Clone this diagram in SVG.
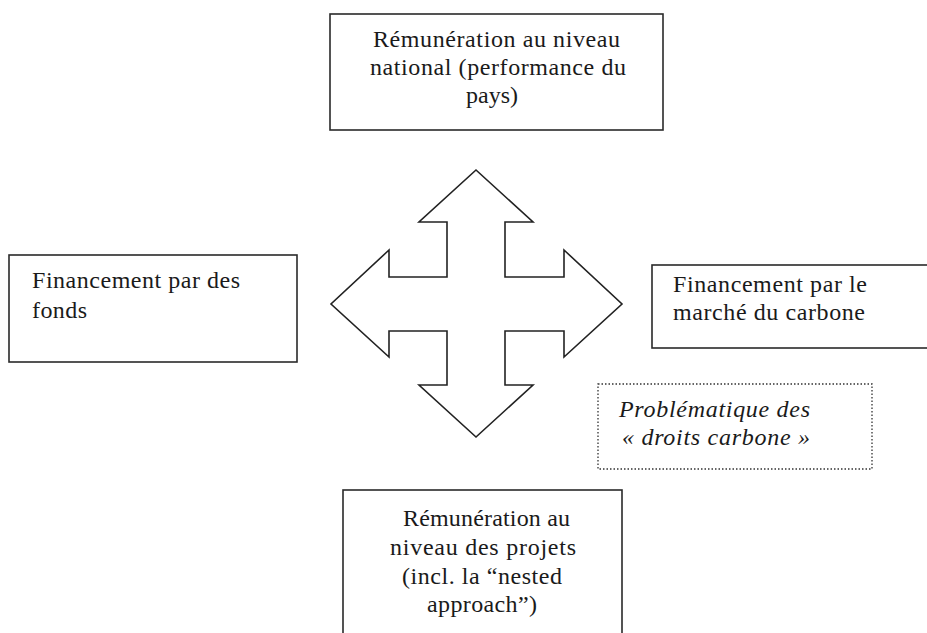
<svg xmlns="http://www.w3.org/2000/svg" width="927" height="633" viewBox="0 0 927 633">
<style>
.box{fill:#fff;stroke:#2a2a2a;stroke-width:1.6}
.dot{fill:#fff;stroke:#333;stroke-width:1.3;stroke-dasharray:1.5 2}
.t{font-family:"Liberation Serif","Times New Roman",serif;font-size:24px;fill:#1a1a1a}
.i{font-style:italic}
.arrow{fill:#fff;stroke:#222;stroke-width:1.6;stroke-linejoin:miter}
</style>
<rect width="927" height="633" fill="#fff"/>
<g id="connectors">
<path class="arrow" d="M476,170 L533,222 L505,222 L505,277 L564,277 L564,250 L622,304 L564,357 L564,331 L505,331 L505,385 L533,385 L476,437 L419,385 L447,385 L447,331 L389,331 L389,357 L331,304 L389,250 L389,277 L447,277 L447,222 L419,222 Z"/>
</g>
<g id="node-top">
<rect class="box" x="330" y="14" width="333" height="116"/>
<text class="t" x="373" y="47" textLength="247">Rémunération au niveau</text>
<text class="t" x="370" y="75" textLength="256">national (performance du</text>
<text class="t" x="492" y="103" text-anchor="middle">pays)</text>
</g>
<g id="node-left">
<rect class="box" x="9" y="255" width="288" height="107"/>
<text class="t" x="32" y="288" textLength="208">Financement par des</text>
<text class="t" x="32" y="318" textLength="55">fonds</text>
</g>
<g id="node-right">
<rect class="box" x="652" y="265" width="290" height="83"/>
<text class="t" x="673" y="292" textLength="194">Financement par le</text>
<text class="t" x="673" y="320" textLength="192">marché du carbone</text>
</g>
<g id="node-note">
<rect class="dot" x="598" y="384" width="274" height="85"/>
<text class="t i" x="619" y="417" textLength="191">Problématique des</text>
<text class="t i" x="622" y="445" textLength="188">« droits carbone »</text>
</g>
<g id="node-bottom">
<rect class="box" x="343" y="490" width="279" height="160"/>
<text class="t" x="403" y="526" textLength="167">Rémunération au</text>
<text class="t" x="390" y="555" textLength="186">niveau des projets</text>
<text class="t" x="402" y="584" textLength="160">(incl. la “nested</text>
<text class="t" x="427" y="612" textLength="110">approach”)</text>
</g>
</svg>
